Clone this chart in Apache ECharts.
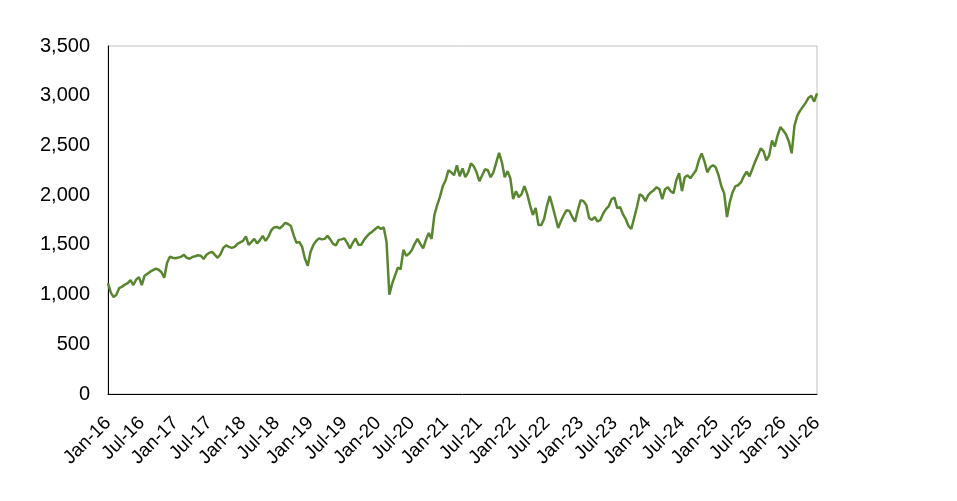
<!DOCTYPE html>
<html>
	<head>
		<meta charset="UTF-8">
		<title></title>
		<style>
			html, body { margin: 0; padding: 0; background: #fff; }
		</style>
	</head>
	<body>
		<div id="main" style="width: 957px;height:501px;"></div>
		<script src="https://cdn.jsdelivr.net/npm/echarts@6/dist/echarts.min.js"></script>
		<script>
			// x labels, one every 6 months (12 half-month points)
			var tickLabels = ['Jan-16','Jul-16','Jan-17','Jul-17','Jan-18','Jul-18','Jan-19','Jul-19',
				'Jan-20','Jul-20','Jan-21','Jul-21','Jan-22','Jul-22','Jan-23','Jul-23',
				'Jan-24','Jul-24','Jan-25','Jul-25','Jan-26','Jul-26'];

			// index level, read roughly twice a month
			var values = [
				1113,1020,975,1000,1065,1080,1100,1115,1145,1096,1150,1175,
				1096,1190,1210,1230,1245,1260,1250,1225,1170,1320,1380,1370,
				1365,1372,1380,1400,1370,1360,1378,1385,1395,1390,1358,1400,
				1420,1430,1400,1370,1405,1470,1495,1480,1470,1480,1510,1525,
				1540,1585,1500,1530,1560,1515,1548,1590,1540,1580,1645,1675,
				1680,1665,1690,1722,1710,1690,1595,1520,1530,1480,1360,1290,
				1430,1498,1540,1565,1555,1560,1590,1555,1510,1495,1550,1555,
				1565,1520,1465,1520,1565,1500,1500,1550,1585,1615,1635,1660,
				1683,1660,1675,1530,1000,1110,1190,1270,1255,1450,1390,1410,
				1448,1510,1560,1510,1465,1550,1620,1560,1800,1900,1985,2090,
				2150,2250,2230,2200,2300,2190,2270,2180,2230,2320,2290,2230,
				2140,2200,2260,2250,2180,2230,2330,2425,2330,2180,2240,2170,
				1960,2040,1980,2010,2090,2010,1900,1800,1870,1700,1700,1760,
				1890,1990,1890,1780,1670,1740,1800,1850,1840,1780,1733,1850,
				1950,1940,1900,1770,1750,1780,1735,1750,1815,1860,1890,1960,
				1975,1870,1880,1810,1760,1690,1660,1770,1880,2010,1990,1940,
				2000,2030,2050,2080,2060,1960,2060,2080,2040,2020,2150,2220,
				2040,2180,2200,2170,2210,2250,2350,2420,2340,2230,2280,2300,
				2280,2200,2090,2020,1780,1930,2030,2090,2100,2130,2190,2236,
				2190,2260,2337,2400,2470,2440,2350,2400,2550,2490,2600,2685,
				2650,2610,2540,2421,2700,2800,2850,2890,2930,2980,3000,2940,
				3024
			];

			// half-month categories from Jan 2016
			var categories = [];
			for (var i = 0; i < values.length; i++) {
				var m = Math.floor(i / 2);
				var y = 2016 + Math.floor(m / 12);
				var mm = (m % 12) + 1;
				categories.push(y + '-' + (mm < 10 ? '0' + mm : mm) + (i % 2 ? '-16' : '-01'));
			}

			var chart = echarts.init(document.getElementById('main'));
			chart.setOption({
				animation: false,
				grid: {
					left: 108,
					right: 140,
					top: 46,
					bottom: 107,
					show: true,
					borderColor: '#bfbfbf',
					borderWidth: 1
				},
				xAxis: {
					type: 'category',
					data: categories,
					boundaryGap: false,
					axisLine: { lineStyle: { color: '#000', width: 1 } },
					axisTick: { show: false },
					axisLabel: {
						rotate: 45,
						margin: 26,
						color: '#000',
						fontFamily: 'Liberation Sans, Arial',
						fontSize: 19,
						interval: function (idx) { return idx % 12 === 0; },
						formatter: function (val, idx) { return tickLabels[idx / 12] || ''; }
					},
					splitLine: { show: false }
				},
				yAxis: {
					type: 'value',
					min: 0,
					max: 3500,
					interval: 500,
					axisLine: { show: true, lineStyle: { color: '#000', width: 1 } },
					axisTick: { show: false },
					axisLabel: {
						margin: 18,
						color: '#000',
						fontFamily: 'Liberation Sans, Arial',
						fontSize: 20,
						formatter: function (v) { return v.toLocaleString('en-US'); }
					},
					splitLine: { show: false }
				},
				series: [{
					type: 'line',
					data: values,
					showSymbol: false,
					lineStyle: { color: '#5a8530', width: 2.5 }
				}]
			});
		</script>
	</body>
</html>
